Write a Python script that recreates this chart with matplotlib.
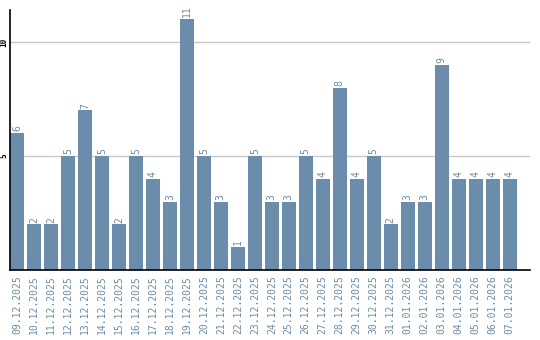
import matplotlib
matplotlib.use('Agg')
import matplotlib.pyplot as plt

dates = ['09.12.2025', '10.12.2025', '11.12.2025', '12.12.2025', '13.12.2025',
         '14.12.2025', '15.12.2025', '16.12.2025', '17.12.2025', '18.12.2025',
         '19.12.2025', '20.12.2025', '21.12.2025', '22.12.2025', '23.12.2025',
         '24.12.2025', '25.12.2025', '26.12.2025', '27.12.2025', '28.12.2025',
         '29.12.2025', '30.12.2025', '31.12.2025', '01.01.2026', '02.01.2026',
         '03.01.2026', '04.01.2026', '05.01.2026', '06.01.2026', '07.01.2026']
counts = [6, 2, 2, 5, 7, 5, 2, 5, 4, 3, 11, 5, 3, 1, 5, 3, 3, 5, 4, 8,
          4, 5, 2, 3, 3, 9, 4, 4, 4, 4]
yticks = [5, 10]

bar_color = '#6b8caa'

fig = plt.figure(figsize=(5.4, 3.4), dpi=100)
ax = fig.add_axes([0.0185, 0.206, 0.9625, 0.764])

x = list(range(len(dates)))
ax.bar(x, counts, width=0.82, color=bar_color, zorder=2)
for xi, v in zip(x, counts):
    ax.text(xi, v + 0.08, str(v), rotation=90, ha='center', va='bottom',
            fontsize=7, color=bar_color, family='DejaVu Sans Mono')

ax.set_xlim(-0.41, 30.18)
ax.set_ylim(0, 11.4)
ax.set_yticks(yticks)
ax.set_yticklabels([str(t) for t in yticks], rotation=90, va='center',
                   fontsize=5.5, family='DejaVu Sans Mono', fontweight='bold')
ax.set_xticks(x)
ax.set_xticklabels(dates, rotation=90, fontsize=7, color=bar_color,
                   family='DejaVu Sans Mono')
ax.tick_params(axis='both', length=0)
ax.tick_params(axis='x', pad=4)
ax.tick_params(axis='y', pad=1)
ax.yaxis.grid(True, color='#c8c8c8', linewidth=1, zorder=0)
ax.spines['top'].set_visible(False)
ax.spines['right'].set_visible(False)
ax.spines['left'].set_linewidth(1.2)
ax.spines['bottom'].set_linewidth(1.2)

fig.savefig('out.png', dpi=100)
